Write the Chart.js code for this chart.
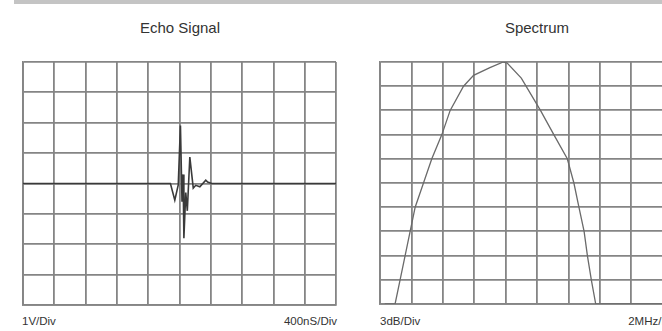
<!DOCTYPE html>
<html>
<head>
<meta charset="utf-8">
<script src="https://cdn.jsdelivr.net/npm/chart.js@4/dist/chart.umd.min.js"></script>
<style>
  html, body { margin: 0; padding: 0; background: #fff; }
  body { width: 662px; height: 331px; overflow: hidden; position: relative; font-family: "Liberation Sans", Arial, sans-serif; color: #333; }
  .bar { position: absolute; left: 14px; top: 0; width: 660px; height: 4px; background: #c4c4c4; }
  .box { position: absolute; }
  .title { position: absolute; top: 19px; font-size: 15px; text-align: center; width: 200px; }
  .lab { position: absolute; top: 315px; font-size: 11.5px; white-space: nowrap; }
</style>
</head>
<body>
<div class="bar"></div>
<div class="title" style="left:80px;">Echo Signal</div>
<div class="title" style="left:437px;">Spectrum</div>
<div class="lab" style="left:22px;">1V/Div</div>
<div class="lab" style="left:237px; width:100px; text-align:right;">400nS/Div</div>
<div class="lab" style="left:380px;">3dB/Div</div>
<div class="lab" style="left:578px; width:100px; text-align:right;">2MHz/Div</div>
<div class="box" style="left:19px; top:58px; width:321px; height:251px;"><canvas id="c1"></canvas></div>
<div class="box" style="left:376px; top:58px; width:322px; height:250px;"><canvas id="c2"></canvas></div>
<script>
// Echo signal: time (ns), amplitude (V)
const echoTime = [0, 1884, 1940, 1984, 2012, 2032, 2046, 2056, 2080, 2100, 2132, 2176, 2208, 2260, 2336, 2360, 2412, 4000];
const echoVolt = [0, 0, -0.55, -0.05, 1.91, -0.6, 0.3, -1.8, -0.3, -0.9, 0.87, -0.15, -0.06, -0.11, 0.11, 0.05, 0, 0];
// Spectrum: frequency (MHz), level (dB)
const specFreq = [0.3, 0.96, 1.28, 1.6, 1.92, 2.24, 2.77, 3.3, 3.94, 4.47, 5.32, 5.96, 7.0, 7.85, 8.1, 9.0, 10.22, 11.07, 11.93, 12.35, 12.67, 13.0, 13.21, 13.46, 13.74, 20];
const specDb   = [-30, -30, -27, -24, -21, -18, -15, -12, -9, -6, -3, -1.65, -0.7, 0, -0.12, -2.0, -6, -9, -12, -15, -18, -21, -24, -27, -30, -30];
// Axis ranges / divisions
const echoX = {min: 0, max: 4000, step: 400};
const echoY = {min: -4, max: 4, step: 1};
const specX = {min: 0, max: 20, step: 2};
const specY = {min: -30, max: 0, step: 3};

const gridColor = '#858585';
function axis(r) {
  return {
    type: 'linear', min: r.min, max: r.max,
    ticks: { display: false, stepSize: r.step },
    grid: { color: gridColor, lineWidth: 1.8, drawTicks: false },
    border: { display: true, color: gridColor, width: 1.8 }
  };
}
function makeChart(id, xs, ys, rx, ry, color, width) {
  new Chart(document.getElementById(id), {
    type: 'line',
    data: { datasets: [{ data: xs.map((x, i) => ({x: x, y: ys[i]})), borderColor: color, borderWidth: width, pointRadius: 0, tension: 0, fill: false }] },
    options: {
      responsive: true, maintainAspectRatio: false, animation: false,
      layout: { padding: 4 },
      plugins: { legend: { display: false }, tooltip: { enabled: false } },
      scales: { x: axis(rx), y: axis(ry) }
    }
  });
}
makeChart('c1', echoTime, echoVolt, echoX, echoY, '#3a3a3a', 1.6);
makeChart('c2', specFreq, specDb, specX, specY, '#6a6a6a', 1.3);
</script>
</body>
</html>
